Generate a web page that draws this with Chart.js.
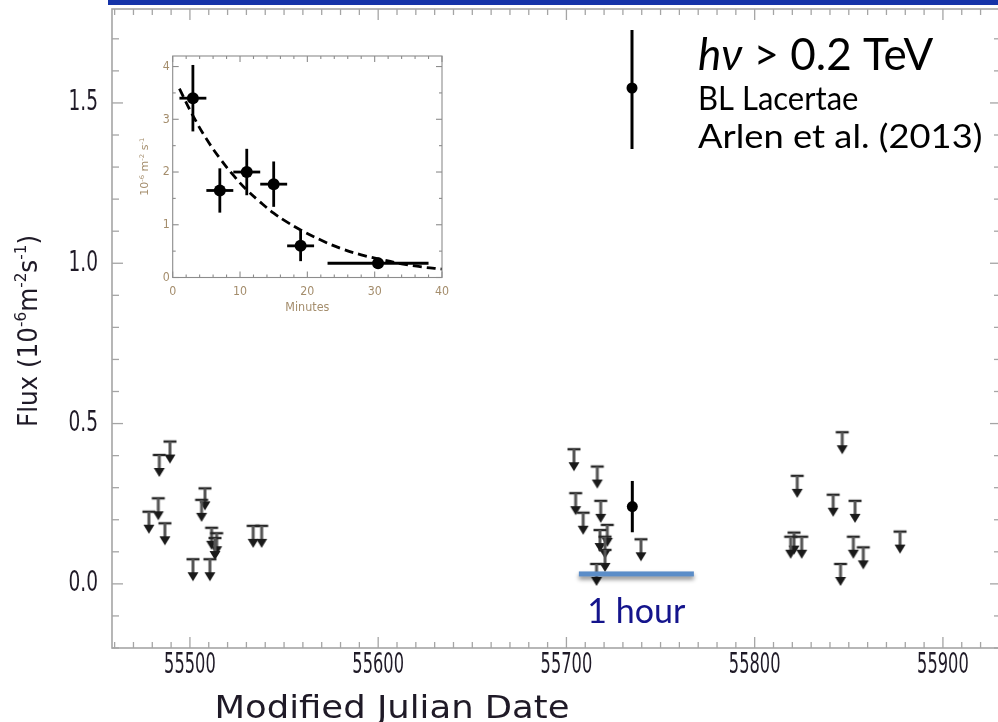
<!DOCTYPE html>
<html>
<head>
<meta charset="utf-8">
<script src="https://cdn.jsdelivr.net/npm/chart.js@4.4.0/dist/chart.umd.min.js"></script>
<style>
  html, body { margin: 0; padding: 0; background: #fff; overflow: hidden; }
  #wrap { position: relative; width: 998px; height: 722px; overflow: hidden; }
  #topBar { position: absolute; left: 108px; top: 0; width: 890px; height: 5px; background: #1533a8; }
  #mainChart { position: absolute; left: 0; top: 0; }
  #insetChart { position: absolute; left: 130px; top: 50px; }
</style>
</head>
<body>
<div id="wrap">
  <canvas id="mainChart" width="1002" height="722"></canvas>
  <canvas id="insetChart" width="320" height="265"></canvas>
  <div id="topBar"></div>
</div>
<script>
// Light curve, flux in 1e-6 m^-2 s^-1
const ulMjd = [
  55489.4, 55483.7, 55483.2, 55478.2, 55486.7, 55508.0, 55506.2, 55511.5, 55514.2, 55513.3,
  55533.6, 55538.1, 55501.6, 55510.6,
  55704.0, 55716.4, 55704.9, 55718.2, 55708.9, 55721.7, 55717.8, 55720.5, 55720.5, 55716.0, 55739.6,
  55846.5, 55822.6, 55841.7, 55853.3, 55820.9, 55825.0, 55819.1, 55852.4, 55857.7, 55845.6, 55877.2
];
const ulFlux = [
  0.444, 0.402, 0.267, 0.225, 0.189, 0.298, 0.262, 0.175, 0.158, 0.143,
  0.181, 0.181, 0.077, 0.077,
  0.420, 0.366, 0.283, 0.259, 0.222, 0.184, 0.168, 0.147, 0.106, 0.062, 0.139,
  0.473, 0.337, 0.278, 0.259, 0.160, 0.147, 0.147, 0.147, 0.114, 0.062, 0.163
];
const detMjd = [55735.0];
const detFlux = [0.241];
const detErr = [0.08];

const xMajor = [55500, 55600, 55700, 55800, 55900];
const yMajor = [0.0, 0.5, 1.0, 1.5];

// "1 hour" scale bar under the flare night
const hourBarMjd = [55706.6, 55767.7];
const hourBarFlux = 0.031;

// Flare zoom-in, minutes after start
const flareMin = [3, 7, 11, 15, 19, 30.5];
const flareMinErr = [2, 2, 2, 2, 2, 7.5];
const flareFlux = [3.4, 1.65, 2.0, 1.77, 0.6, 0.27];
const flareFluxErr = [0.63, 0.42, 0.44, 0.43, 0.29, 0.08];
const fitMin = [1, 3, 5, 7, 9, 11, 13, 15, 17, 19, 22, 25, 28, 31, 34, 37, 40];
const fitFlux = [3.58, 3.07, 2.63, 2.26, 1.94, 1.66, 1.43, 1.22, 1.05, 0.9, 0.71, 0.55, 0.43, 0.34, 0.26, 0.2, 0.16];
const insetXMajor = [0, 10, 20, 30, 40];
const insetYMajor = [0, 1, 2, 3, 4];

const AXIS_FONT = '"DejaVu Sans", sans-serif';
const NOTE_FONT = 'Lato, "Open Sans", sans-serif';

function line(ctx, x0, y0, x1, y1) {
  ctx.beginPath(); ctx.moveTo(x0, y0); ctx.lineTo(x1, y1); ctx.stroke();
}

// text squeezed/stretched along its own direction
function drawScaled(ctx, text, x, y, font, sx, align) {
  ctx.save();
  ctx.translate(x, y);
  ctx.scale(sx, 1);
  ctx.font = font;
  ctx.textAlign = align || 'center';
  ctx.fillText(text, 0, 0);
  ctx.restore();
}

// runs of [text, isSuperscript], fitted to a target length
function drawRuns(ctx, runs, size, family, target) {
  const sup = size * 0.62;
  let w = 0;
  runs.forEach(([t, s]) => { ctx.font = (s ? sup : size) + 'px ' + family; w += ctx.measureText(t).width; });
  const k = target / w;
  ctx.scale(k, 1);
  let pos = -w / 2;
  ctx.textAlign = 'left';
  runs.forEach(([t, s]) => {
    ctx.font = (s ? sup : size) + 'px ' + family;
    ctx.fillText(t, pos, s ? -size * 0.42 : 0);
    pos += ctx.measureText(t).width;
  });
}

// upper-limit glyph: bar at the centre of the image, arrow hanging below it
function makeLimitArrow() {
  const c = document.createElement('canvas');
  c.width = 18; c.height = 48;
  const g = c.getContext('2d');
  const cx = 9, top = 24;
  g.filter = 'blur(0.5px)';
  g.strokeStyle = '#262626'; g.lineWidth = 2.4;
  line(g, 2.5, top, 15.5, top);
  g.strokeStyle = '#555'; g.lineWidth = 3;
  line(g, cx, top, cx, top + 15);
  g.fillStyle = '#1a1a1a';
  g.beginPath(); g.moveTo(cx - 5.5, top + 13); g.lineTo(cx + 5.5, top + 13); g.lineTo(cx, top + 22); g.closePath(); g.fill();
  return c;
}
const limitArrow = makeLimitArrow();

const mainAxes = {
  id: 'mainAxes',
  beforeDatasetsDraw(chart) {
    const { ctx, scales: { x, y } } = chart;
    ctx.save();
    ctx.strokeStyle = '#000'; ctx.lineWidth = 3;
    detMjd.forEach((m, i) => {
      const px = x.getPixelForValue(m);
      line(ctx, px, y.getPixelForValue(detFlux[i] - detErr[i]), px, y.getPixelForValue(detFlux[i] + detErr[i]));
    });
    ctx.restore();
  },
  afterDatasetsDraw(chart) {
    const { ctx, scales: { x, y } } = chart;
    const x0 = x.getPixelForValue(hourBarMjd[0]);
    const x1 = x.getPixelForValue(hourBarMjd[1]);
    const py = y.getPixelForValue(hourBarFlux);
    ctx.save();
    ctx.shadowColor = 'rgba(0,0,0,0.45)'; ctx.shadowBlur = 4; ctx.shadowOffsetY = 3;
    ctx.fillStyle = '#5b8dc8';
    ctx.fillRect(x0, py - 2.5, x1 - x0, 5);
    ctx.restore();
    ctx.save();
    ctx.fillStyle = '#14148c';
    ctx.font = '34px ' + NOTE_FONT;
    ctx.textAlign = 'center';
    ctx.fillText('1 hour', (x0 + x1) / 2, 623);
    ctx.restore();
  },
  afterDraw(chart) {
    const { ctx, chartArea: a, scales: { x, y } } = chart;
    ctx.save();
    // frame and inward ticks
    ctx.strokeStyle = '#a5a5a5'; ctx.lineWidth = 1.6;
    ctx.strokeRect(a.left, a.top, a.right - a.left, a.bottom - a.top);
    ctx.lineWidth = 1.3;
    for (let v = 55460; v <= x.max; v += 10) {
      const px = x.getPixelForValue(v);
      const len = v % 100 === 0 ? 11 : 6;
      line(ctx, px, a.bottom, px, a.bottom - len);
      line(ctx, px, a.top, px, a.top + len);
    }
    for (let k = -2; k <= 17; k++) {
      const py = y.getPixelForValue(k / 10);
      const len = k % 5 === 0 ? 11 : 7;
      line(ctx, a.left, py, a.left + len, py);
      line(ctx, a.right, py, a.right - len, py);
    }
    // tick labels
    ctx.fillStyle = '#1f1a27';
    ctx.textBaseline = 'middle';
    x.ticks.forEach(t => drawScaled(ctx, String(t.value), x.getPixelForValue(t.value), 665, '29px ' + AXIS_FONT, 0.56, 'center'));
    y.ticks.forEach(t => drawScaled(ctx, t.value.toFixed(1), 98, y.getPixelForValue(t.value), '29px ' + AXIS_FONT, 0.64, 'right'));
    // axis titles
    ctx.textBaseline = 'alphabetic';
    ctx.save();
    ctx.translate(392, 718);
    drawRuns(ctx, [['Modified Julian Date', false]], 32, AXIS_FONT, 355);
    ctx.restore();
    ctx.save();
    ctx.translate(37, 331);
    ctx.rotate(-Math.PI / 2);
    drawRuns(ctx, [['Flux (10', false], ['-6', true], ['m', false], ['-2', true], ['s', false], ['-1', true], [')', false]], 26, AXIS_FONT, 192);
    ctx.restore();
    // legend key
    ctx.strokeStyle = '#000'; ctx.fillStyle = '#000'; ctx.lineWidth = 3;
    line(ctx, 632, 30, 632, 149);
    ctx.beginPath(); ctx.arc(632, 88, 5.5, 0, Math.PI * 2); ctx.fill();
    ctx.textAlign = 'left';
    ctx.font = 'italic 44px ' + NOTE_FONT;
    ctx.fillText('hν', 698, 70);
    const hw = ctx.measureText('hν').width;
    ctx.font = '44px ' + NOTE_FONT;
    ctx.fillText(' > 0.2 TeV', 698 + hw, 70);
    drawScaled(ctx, 'BL Lacertae', 698, 110, '32px ' + NOTE_FONT, 0.97, 'left');
    drawScaled(ctx, 'Arlen et al. (2013)', 698, 148, '33px ' + NOTE_FONT, 1.1, 'left');
    ctx.restore();
  }
};

new Chart(document.getElementById('mainChart'), {
  type: 'scatter',
  data: {
    datasets: [
      {
        label: 'Detection',
        data: detMjd.map((m, i) => ({ x: m, y: detFlux[i] })),
        pointStyle: 'circle', pointRadius: 5.5, backgroundColor: '#000', borderColor: '#000', borderWidth: 0
      },
      {
        label: 'Upper limits',
        data: ulMjd.map((m, i) => ({ x: m, y: ulFlux[i] })),
        pointStyle: limitArrow, pointRadius: 8
      }
    ]
  },
  options: {
    responsive: false,
    animation: false,
    events: [],
    layout: { autoPadding: false, padding: { top: 9, right: 1, left: 0, bottom: 0 } },
    plugins: { legend: { display: false }, tooltip: { enabled: false } },
    scales: {
      x: {
        type: 'linear', min: 55458.6, max: 55930.85,
        grid: { display: false }, border: { display: false }, ticks: { display: false },
        afterBuildTicks: s => { s.ticks = xMajor.map(v => ({ value: v })); },
        afterFit: s => { s.height = 74; }
      },
      y: {
        type: 'linear', min: -0.2, max: 1.793,
        grid: { display: false }, border: { display: false }, ticks: { display: false },
        afterBuildTicks: s => { s.ticks = yMajor.map(v => ({ value: v })); },
        afterFit: s => { s.width = 112; }
      }
    }
  },
  plugins: [mainAxes]
});

// ---- inset: flare decay in minutes ----
const insetAxes = {
  id: 'insetAxes',
  beforeDatasetsDraw(chart) {
    const { ctx, scales: { x, y } } = chart;
    ctx.save();
    ctx.strokeStyle = '#000'; ctx.lineWidth = 2.8;
    flareMin.forEach((m, i) => {
      const px = x.getPixelForValue(m), py = y.getPixelForValue(flareFlux[i]);
      line(ctx, x.getPixelForValue(m - flareMinErr[i]), py, x.getPixelForValue(m + flareMinErr[i]), py);
      line(ctx, px, y.getPixelForValue(flareFlux[i] - flareFluxErr[i]), px, y.getPixelForValue(flareFlux[i] + flareFluxErr[i]));
    });
    ctx.restore();
  },
  afterDraw(chart) {
    const { ctx, chartArea: a, scales: { x, y } } = chart;
    ctx.save();
    ctx.strokeStyle = '#8c8c8c'; ctx.lineWidth = 1.1;
    ctx.strokeRect(a.left, a.top, a.right - a.left, a.bottom - a.top);
    for (let v = 0; v <= 40; v += 2) {
      const px = x.getPixelForValue(v);
      const len = v % 10 === 0 ? 6 : 3;
      line(ctx, px, a.bottom, px, a.bottom - len);
      line(ctx, px, a.top, px, a.top + len);
    }
    for (let v = 0; v <= 4; v += 0.5) {
      const py = y.getPixelForValue(v);
      const len = v % 1 === 0 ? 6 : 3;
      line(ctx, a.left, py, a.left + len, py);
      line(ctx, a.right, py, a.right - len, py);
    }
    ctx.fillStyle = '#a48d6c';
    ctx.textBaseline = 'middle';
    x.ticks.forEach(t => drawScaled(ctx, String(t.value), x.getPixelForValue(t.value), a.bottom + 14, '13px ' + AXIS_FONT, 0.85, 'center'));
    y.ticks.forEach(t => drawScaled(ctx, String(t.value), a.left - 3, y.getPixelForValue(t.value), '13px ' + AXIS_FONT, 0.85, 'right'));
    ctx.textBaseline = 'alphabetic';
    ctx.save();
    ctx.translate((a.left + a.right) / 2, a.bottom + 33);
    drawRuns(ctx, [['Minutes', false]], 12, AXIS_FONT, 44);
    ctx.restore();
    ctx.save();
    ctx.translate(a.left - 25, (a.top + a.bottom) / 2);
    ctx.rotate(-Math.PI / 2);
    drawRuns(ctx, [['10', false], ['-6', true], [' m', false], ['-2', true], [' s', false], ['-1', true]], 10, AXIS_FONT, 58);
    ctx.restore();
    ctx.restore();
  }
};

new Chart(document.getElementById('insetChart'), {
  type: 'scatter',
  data: {
    datasets: [
      {
        label: 'Flux',
        data: flareMin.map((m, i) => ({ x: m, y: flareFlux[i] })),
        pointStyle: 'circle', pointRadius: 6, backgroundColor: '#000', borderColor: '#000', borderWidth: 0
      },
      {
        type: 'line',
        label: 'Exponential decay',
        data: fitMin.map((m, i) => ({ x: m, y: fitFlux[i] })),
        borderColor: '#000', borderWidth: 2.8, borderDash: [9, 5],
        pointRadius: 0, tension: 0.4, fill: false
      }
    ]
  },
  options: {
    responsive: false,
    animation: false,
    events: [],
    layout: { autoPadding: false, padding: { top: 6, right: 8, left: 0, bottom: 0 } },
    plugins: { legend: { display: false }, tooltip: { enabled: false } },
    scales: {
      x: {
        type: 'linear', min: 0, max: 40,
        grid: { display: false }, border: { display: false }, ticks: { display: false },
        afterBuildTicks: s => { s.ticks = insetXMajor.map(v => ({ value: v })); },
        afterFit: s => { s.height = 37.5; }
      },
      y: {
        type: 'linear', min: 0, max: 4.2,
        grid: { display: false }, border: { display: false }, ticks: { display: false },
        afterBuildTicks: s => { s.ticks = insetYMajor.map(v => ({ value: v })); },
        afterFit: s => { s.width = 42.7; }
      }
    }
  },
  plugins: [insetAxes]
});
</script>
</body>
</html>
